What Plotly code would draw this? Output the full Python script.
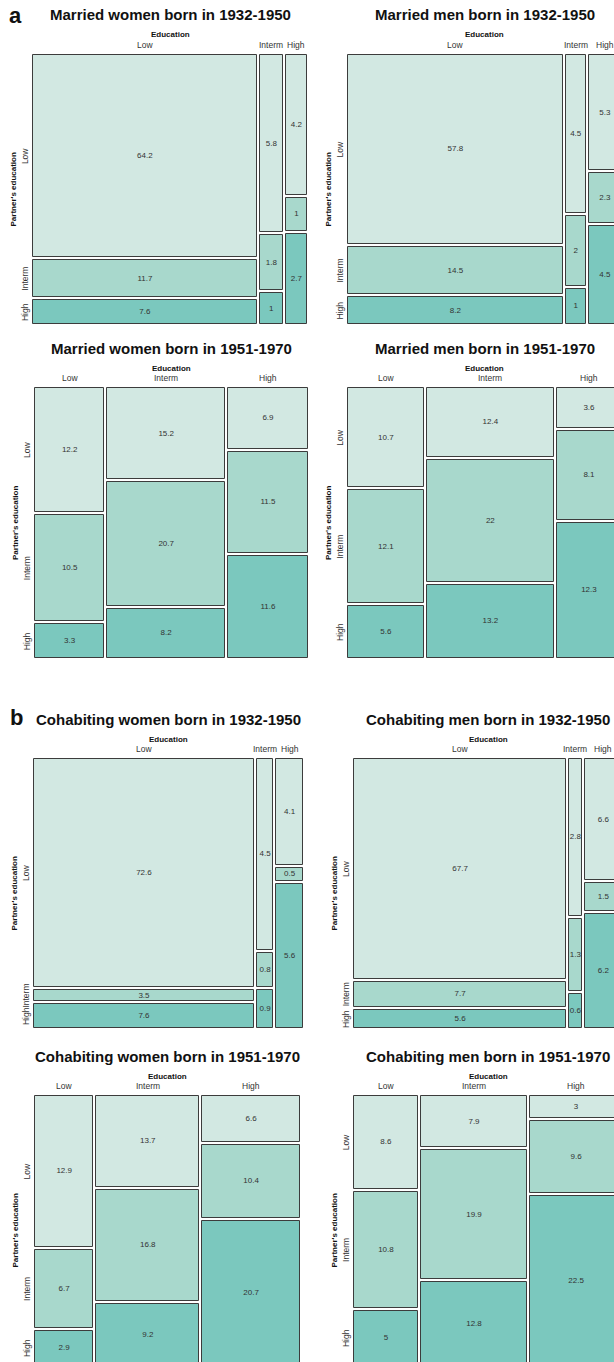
import plotly.graph_objects as go

FIG_W, FIG_H = 614, 1362

# Education categories (own education on columns, partner's education on rows)
EDU = ["Low", "Interm", "High"]

# Each list is one own-education column; entries are partner's education Low, Interm, High (%)
married_women_1932_1950 = [[64.2, 11.7, 7.6], [5.8, 1.8, 1], [4.2, 1, 2.7]]
married_men_1932_1950 = [[57.8, 14.5, 8.2], [4.5, 2, 1], [5.3, 2.3, 4.5]]
married_women_1951_1970 = [[12.2, 10.5, 3.3], [15.2, 20.7, 8.2], [6.9, 11.5, 11.6]]
married_men_1951_1970 = [[10.7, 12.1, 5.6], [12.4, 22, 13.2], [3.6, 8.1, 12.3]]
cohab_women_1932_1950 = [[72.6, 3.5, 7.6], [4.5, 0.8, 0.9], [4.1, 0.5, 5.6]]
cohab_men_1932_1950 = [[67.7, 7.7, 5.6], [2.8, 1.3, 0.6], [6.6, 1.5, 6.2]]
cohab_women_1951_1970 = [[12.9, 6.7, 2.9], [13.7, 16.8, 9.2], [6.6, 10.4, 20.7]]
cohab_men_1951_1970 = [[8.6, 10.8, 5], [7.9, 19.9, 12.8], [3, 9.6, 22.5]]

titles = [
    "Married women born in 1932-1950", "Married men born in 1932-1950",
    "Married women born in 1951-1970", "Married men born in 1951-1970",
    "Cohabiting women born in 1932-1950", "Cohabiting men born in 1932-1950",
    "Cohabiting women born in 1951-1970", "Cohabiting men born in 1951-1970",
]
tables = [
    married_women_1932_1950, married_men_1932_1950,
    married_women_1951_1970, married_men_1951_1970,
    cohab_women_1932_1950, cohab_men_1932_1950,
    cohab_women_1951_1970, cohab_men_1951_1970,
]

# Pixel box of each mosaic: left, right, top, bottom
boxes = [
    (33, 307, 55, 324), (348, 621, 55, 324),
    (35, 308, 388, 658), (348, 621, 388, 658),
    (34, 303, 759, 1028), (354, 622, 759, 1028),
    (35, 300, 1096, 1365), (354, 622, 1096, 1365),
]

ROW_COLORS = ["#d2e8e2", "#a8d8cc", "#7bc8be"]
LINE_COLOR = "#3c3c3c"
TEXT_COLOR = "#333333"
FONT = "Liberation Sans, Arial, sans-serif"
GAP_PX = 3
PAD = 2

fig = go.Figure()
annotations = []


def px(x):
    return x / FIG_W


def py(y):
    return 1 - y / FIG_H


for i, (title, table, (L, R, T, B)) in enumerate(zip(titles, tables, boxes)):
    k = i + 1
    xa = "x" if k == 1 else f"x{k}"
    ya = "y" if k == 1 else f"y{k}"
    W, H = R - L, B - T
    gx, gy = GAP_PX / W, GAP_PX / H

    total = sum(sum(col) for col in table)
    col_w = [sum(col) / total * (1 - 2 * gx) for col in table]
    col_x0 = []
    acc = 0.0
    for c, w in enumerate(col_w):
        col_x0.append(acc + c * gx)
        acc += w

    # tile geometry per cell
    geo = {}
    for c, col in enumerate(table):
        s = sum(col)
        yacc = 0.0
        for r, v in enumerate(col):
            h = v / s * (1 - 2 * gy)
            geo[(r, c)] = (col_x0[c], col_w[c], yacc + r * gy, h)
            yacc += h

    for r in range(3):
        xs, ws, bases, hs = [], [], [], []
        for c in range(3):
            x0, w, y0, h = geo[(r, c)]
            xs.append(x0 + w / 2)
            ws.append(w)
            bases.append(y0)
            hs.append(h)
        fig.add_trace(go.Bar(
            x=xs, y=hs, base=bases, width=ws,
            marker=dict(color=ROW_COLORS[r], line=dict(color=LINE_COLOR, width=1)),
            xaxis=xa, yaxis=ya, showlegend=False, hoverinfo="skip",
        ))

    tx, ty, tt = [], [], []
    for c, col in enumerate(table):
        for r, v in enumerate(col):
            x0, w, y0, h = geo[(r, c)]
            tx.append(x0 + w / 2)
            ty.append(y0 + h / 2)
            tt.append(f"{v:g}")
    fig.add_trace(go.Scatter(
        x=tx, y=ty, text=tt, mode="text",
        textfont=dict(size=8, color=TEXT_COLOR, family=FONT),
        xaxis=xa, yaxis=ya, showlegend=False, hoverinfo="skip", cliponaxis=True,
    ))

    right_px = min(R + PAD, FIG_W)
    bottom_px = min(B + PAD, FIG_H)
    xkey = "xaxis" if k == 1 else f"xaxis{k}"
    ykey = "yaxis" if k == 1 else f"yaxis{k}"
    fig.layout[xkey] = dict(
        domain=[px(L - PAD), px(right_px)],
        range=[-PAD / W, (right_px - L) / W],
        visible=False, fixedrange=True,
    )
    fig.layout[ykey] = dict(
        domain=[py(bottom_px), py(T - PAD)],
        range=[(bottom_px - T) / H, -PAD / H],
        visible=False, fixedrange=True,
    )
    fig.layout[xkey].anchor = ya
    fig.layout[ykey].anchor = xa

    cx = (L + R) / 2
    annotations.append(dict(
        text=f"<b>{title}</b>", x=px(cx), y=py(T - 40), xref="paper", yref="paper",
        showarrow=False, xanchor="center", yanchor="middle",
        font=dict(size=15, color="#111111", family=FONT),
    ))
    annotations.append(dict(
        text="<b>Education</b>", x=px(cx), y=py(T - 20), xref="paper", yref="paper",
        showarrow=False, xanchor="center", yanchor="middle",
        font=dict(size=8, color="#111111", family=FONT),
    ))
    for c, name in enumerate(EDU):
        annotations.append(dict(
            text=name, x=col_x0[c] + col_w[c] / 2, y=py(T - 10), xref=xa, yref="paper",
            showarrow=False, xanchor="center", yanchor="middle",
            font=dict(size=8.5, color=TEXT_COLOR, family=FONT),
        ))
    annotations.append(dict(
        text="<b>Partner's education</b>", x=px(L - 20), y=py((T + B) / 2),
        xref="paper", yref="paper", showarrow=False, textangle=-90,
        xanchor="center", yanchor="middle",
        font=dict(size=8, color="#111111", family=FONT),
    ))
    for r, name in enumerate(EDU):
        x0, w, y0, h = geo[(r, 0)]
        annotations.append(dict(
            text=name, x=px(L - 8), y=y0 + h / 2, xref="paper", yref=ya,
            showarrow=False, textangle=-90, xanchor="center", yanchor="middle",
            font=dict(size=8.5, color=TEXT_COLOR, family=FONT),
        ))

# Panel letters
annotations.append(dict(text="<b>a</b>", x=px(15), y=py(16), xref="paper", yref="paper",
                        showarrow=False, xanchor="center", yanchor="middle",
                        font=dict(size=22, color="#111111", family=FONT)))
annotations.append(dict(text="<b>b</b>", x=px(16), y=py(717), xref="paper", yref="paper",
                        showarrow=False, xanchor="center", yanchor="middle",
                        font=dict(size=22, color="#111111", family=FONT)))

fig.update_layout(
    width=FIG_W, height=FIG_H,
    margin=dict(l=0, r=0, t=0, b=0),
    paper_bgcolor="white", plot_bgcolor="white",
    barmode="overlay", bargap=0,
    annotations=annotations,
    font=dict(family=FONT),
)

fig.write_html("out.html")
